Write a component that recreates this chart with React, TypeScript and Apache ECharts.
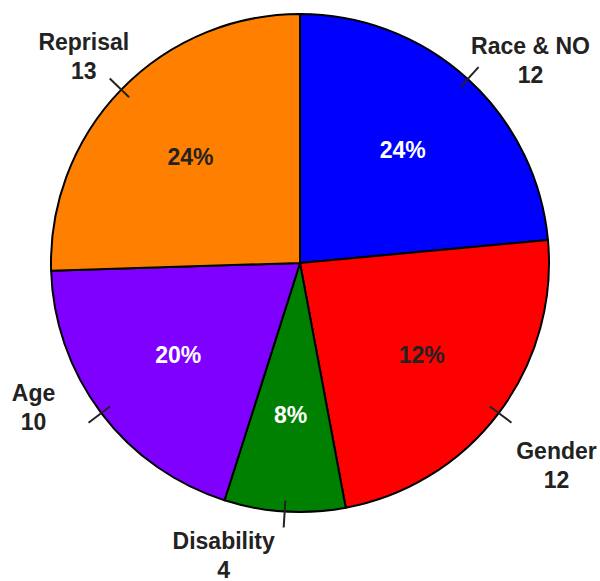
import React, { useEffect, useRef } from 'react';
import * as echarts from 'echarts';

const categories = ['Race & NO', 'Gender', 'Disability', 'Age', 'Reprisal'];
const counts = [12, 12, 4, 10, 13];
const percentLabels = ['24%', '12%', '8%', '20%', '24%'];
const sliceColors = ['#0000ff', '#ff0000', '#008000', '#8000ff', '#ff8000'];
const percentColors = ['#ffffff', '#222222', '#ffffff', '#ffffff', '#222222'];

const CX = 300;
const CY = 263;
const R = 249;
const FONT = "'Liberation Sans', Arial, Helvetica, sans-serif";
// label centre offsets from the outer end of each tick
const labelOffsets = [
  [52, -7],
  [45, 43],
  [-60, 28],
  [-55, -15],
  [-26, -22],
];

export default function App() {
  const ref = useRef<HTMLDivElement>(null);
  useEffect(() => {
    if (!ref.current) return;
    const chart = echarts.init(ref.current, null, { renderer: 'svg' });
    const total = counts.reduce((a, b) => a + b, 0);
    const mids: number[] = [];
    let acc = 0;
    counts.forEach((v) => {
      mids.push(((acc + v / 2) / total) * Math.PI * 2);
      acc += v;
    });
    const data = categories.map((name, i) => ({
      name,
      value: counts[i],
      itemStyle: { color: sliceColors[i] },
    }));
    const option: any = {
      animation: false,
      series: [
        {
          type: 'pie',
          z: 2,
          center: [CX, CY],
          radius: R,
          startAngle: 90,
          clockwise: true,
          silent: true,
          label: { show: false },
          labelLine: { show: false },
          itemStyle: { borderColor: '#000000', borderWidth: 2 },
          data,
        },
        {
          type: 'pie',
          z: 3,
          center: [CX, CY],
          radius: [50, R],
          startAngle: 90,
          clockwise: true,
          silent: true,
          itemStyle: { color: 'rgba(0,0,0,0)', borderWidth: 0 },
          label: {
            show: true,
            position: 'inside',
            fontFamily: FONT,
            fontWeight: 'bold',
            fontSize: 23,
            formatter: (p: any) => percentLabels[p.dataIndex],
          },
          labelLine: { show: false },
          data: categories.map((name, i) => ({
            name,
            value: counts[i],
            label: { color: percentColors[i] },
          })),
        },
        {
          type: 'pie',
          z: 4,
          center: [CX, CY],
          radius: R - 11,
          startAngle: 90,
          clockwise: true,
          silent: true,
          avoidLabelOverlap: false,
          itemStyle: { color: 'rgba(0,0,0,0)', borderWidth: 0 },
          label: {
            show: true,
            position: 'outside',
            fontFamily: FONT,
            fontWeight: 'bold',
            fontSize: 23,
            lineHeight: 29,
            color: '#222222',
            align: 'center',
            formatter: (p: any) => `${p.name}\n${p.value}`,
          },
          labelLine: {
            show: true,
            length: 27,
            length2: 0,
            lineStyle: { color: '#222222', width: 2 },
          },
          labelLayout: (params: any) => {
            const i = params.dataIndex;
            let pts = params.labelLinePoints;
            let ex: number;
            let ey: number;
            if (pts && pts.length >= 2) {
              ex = pts[1][0];
              ey = pts[1][1];
            } else {
              ex = CX + (R + 16) * Math.sin(mids[i]);
              ey = CY - (R + 16) * Math.cos(mids[i]);
              pts = undefined;
            }
            const res: any = {
              x: ex + labelOffsets[i][0],
              y: ey + labelOffsets[i][1],
              align: 'center',
              verticalAlign: 'middle',
            };
            if (pts) res.labelLinePoints = pts;
            return res;
          },
          data: categories.map((name, i) => ({ name, value: counts[i] })),
        },
      ],
    };
    chart.setOption(option);
    return () => chart.dispose();
  }, []);
  return (
    <div
      ref={ref}
      style={{ position: 'absolute', left: 0, top: 0, width: 600, height: 581 }}
    />
  );
}
